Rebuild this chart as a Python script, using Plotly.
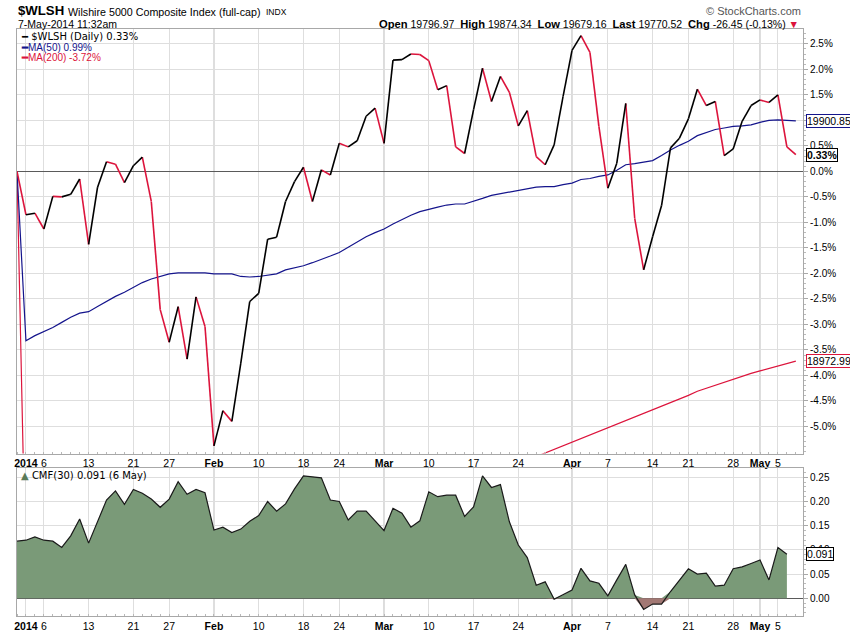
import pandas as pd
import plotly.graph_objects as go

# trading days shown on the chart (31 Dec 2013 is the 0% base)
holidays = ["2014-01-01", "2014-01-20", "2014-02-17", "2014-04-18"]
dates = [d.strftime("%Y-%m-%d") for d in pd.bdate_range("2013-12-31", "2014-05-07")
         if d.strftime("%Y-%m-%d") not in holidays]

# $WLSH % change vs 31 Dec 2013
wlsh_pct = [0.00,
            -0.85, -0.82, -1.13, -0.49, -0.50, -0.45, -0.15, -1.43, -0.31, 0.19, 0.14,
            -0.22, 0.11, 0.28, -0.59, -2.71, -3.35, -2.65, -3.68, -2.46, -3.04,
            -5.38, -4.69, -4.90, -3.76, -2.55, -2.39, -1.33, -1.29, -0.59, -0.20,
            0.08, -0.59, 0.03, -0.07, 0.55, 0.48, 0.60, 1.08, 1.24,
            0.55, 2.18, 2.19, 2.30, 2.29, 2.17, 1.60, 1.68, 0.48, 0.35, 1.21,
            2.02, 1.37, 1.86, 1.55, 0.89, 1.19, 0.29, 0.13, 0.52, 1.47,
            2.37, 2.66, 2.33, 0.88, -0.33, 0.16, 1.33, -0.92, -1.93, -1.28, -0.67,
            0.46, 0.65, 1.03, 1.61, 1.29, 1.37, 0.31, 0.44, 0.98, 1.29,
            1.40, 1.35, 1.50, 0.48, 0.33]

ma50_pct = [0.00,
            -3.32, -3.22, -3.14, -3.06, -2.96, -2.86, -2.78, -2.75, -2.65, -2.55, -2.45,
            -2.37, -2.27, -2.18, -2.11, -2.06, -2.01, -1.99, -1.99, -1.99, -1.99,
            -2.01, -2.01, -2.01, -2.06, -2.07, -2.06, -2.03, -2.01, -1.93, -1.89,
            -1.85, -1.79, -1.73, -1.66, -1.59, -1.49, -1.38, -1.28, -1.20,
            -1.13, -1.03, -0.94, -0.86, -0.79, -0.74, -0.70, -0.66, -0.64, -0.64, -0.59,
            -0.53, -0.47, -0.44, -0.41, -0.38, -0.34, -0.31, -0.30, -0.30, -0.26,
            -0.23, -0.16, -0.14, -0.10, -0.07, 0.02, 0.13, 0.15, 0.18, 0.21, 0.31,
            0.42, 0.51, 0.59, 0.70, 0.76, 0.82, 0.85, 0.88, 0.89, 0.91,
            0.96, 1.00, 1.01, 1.00, 0.99]

ma200_pct = [0.00,
             -8.10, -8.05, -8.00, -7.96, -7.91, -7.87, -7.82, -7.78, -7.74, -7.69, -7.65,
             -7.61, -7.56, -7.52, -7.48, -7.44, -7.40, -7.36, -7.32, -7.28, -7.24,
             -7.21, -7.18, -7.15, -7.11, -7.08, -7.04, -7.00, -6.96, -6.92, -6.88,
             -6.84, -6.80, -6.76, -6.72, -6.68, -6.63, -6.59, -6.54, -6.50,
             -6.45, -6.40, -6.35, -6.30, -6.25, -6.20, -6.15, -6.10, -6.06, -6.02, -5.98,
             -5.94, -5.89, -5.84, -5.79, -5.73, -5.66, -5.59, -5.52, -5.45, -5.38,
             -5.31, -5.24, -5.17, -5.09, -5.02, -4.95, -4.88, -4.81, -4.74, -4.67, -4.60,
             -4.53, -4.46, -4.39, -4.31, -4.25, -4.19, -4.13, -4.07, -4.02, -3.96,
             -3.91, -3.86, -3.81, -3.76, -3.72]

# Chaikin Money Flow (30), ends 6 May
cmf30 = [0.118,
         0.120, 0.127, 0.120, 0.118, 0.105, 0.129, 0.164, 0.114, 0.158, 0.203, 0.222,
         0.194, 0.225, 0.217, 0.205, 0.188, 0.205, 0.241, 0.215, 0.225, 0.218,
         0.141, 0.147, 0.136, 0.143, 0.159, 0.171, 0.200, 0.180, 0.195, 0.226,
         0.253, 0.251, 0.249, 0.203, 0.200, 0.162, 0.180, 0.180, 0.159,
         0.140, 0.186, 0.176, 0.147, 0.160, 0.220, 0.210, 0.213, 0.213, 0.169, 0.189,
         0.253, 0.229, 0.235, 0.158, 0.110, 0.084, 0.027, 0.034, -0.002, 0.007,
         0.017, 0.062, 0.036, 0.031, 0.005, 0.038, 0.070, 0.007, -0.023, -0.012, -0.012,
         0.014, 0.038, 0.061, 0.050, 0.052, 0.025, 0.027, 0.061, 0.065, 0.072,
         0.079, 0.038, 0.105, 0.091]

tick_dates = ["2014-01-02", "2014-01-06", "2014-01-13", "2014-01-21", "2014-01-27",
              "2014-02-03", "2014-02-10", "2014-02-18", "2014-02-24",
              "2014-03-03", "2014-03-10", "2014-03-17", "2014-03-24",
              "2014-04-01", "2014-04-07", "2014-04-14", "2014-04-21", "2014-04-28",
              "2014-05-01", "2014-05-05"]
tick_labels = ["<b>2014</b>", "6", "13", "21", "27", "<b>Feb</b>", "10", "18", "24",
               "<b>Mar</b>", "10", "17", "24", "<b>Apr</b>", "7", "14", "21", "28",
               "<b>May</b>", "5"]
month_starts = ["2014-02-03", "2014-03-03", "2014-04-01", "2014-05-01"]

pct_ticks = [-5.0, -4.5, -4.0, -3.5, -3.0, -2.5, -2.0, -1.5, -1.0, -0.5,
             0.0, 0.5, 1.0, 1.5, 2.0, 2.5]
cmf_ticks = [0.00, 0.05, 0.10, 0.15, 0.20, 0.25]

BLACK = "#000000"
RED = "#dc143c"
NAVY = "#14148c"
GRID = "#dedede"
FRAME = "#a8a8a8"

pos = {d: i - 1 for i, d in enumerate(dates)}
xs = [pos[d] for d in dates]
tickvals = [pos[d] for d in tick_dates]

# split the price line into rising (black) and falling (red) segments
up_x, up_y, dn_x, dn_y = [], [], [], []
for i in range(1, len(wlsh_pct)):
    seg_x = [xs[i - 1], xs[i], None]
    seg_y = [wlsh_pct[i - 1], wlsh_pct[i], None]
    if wlsh_pct[i] >= wlsh_pct[i - 1]:
        up_x += seg_x
        up_y += seg_y
    else:
        dn_x += seg_x
        dn_y += seg_y

cmf_x = xs[:len(cmf30)]
cmf_pos = [max(v, 0) for v in cmf30]
cmf_neg = [min(v, 0) for v in cmf30]

fig = go.Figure()
fig.add_trace(go.Scatter(x=xs, y=ma200_pct, mode="lines", line=dict(color=RED, width=1.2),
                         xaxis="x", yaxis="y"))
fig.add_trace(go.Scatter(x=xs, y=ma50_pct, mode="lines", line=dict(color=NAVY, width=1.2),
                         xaxis="x", yaxis="y"))
fig.add_trace(go.Scatter(x=dn_x, y=dn_y, mode="lines", line=dict(color=RED, width=1.6),
                         xaxis="x", yaxis="y", connectgaps=False))
fig.add_trace(go.Scatter(x=up_x, y=up_y, mode="lines", line=dict(color=BLACK, width=1.6),
                         xaxis="x", yaxis="y", connectgaps=False))

fig.add_trace(go.Scatter(x=cmf_x, y=cmf_pos, mode="lines", line=dict(width=0),
                         fill="tozeroy", fillcolor="#7a9a78", xaxis="x2", yaxis="y2"))
fig.add_trace(go.Scatter(x=cmf_x, y=cmf_neg, mode="lines", line=dict(width=0),
                         fill="tozeroy", fillcolor="#a27874", xaxis="x2", yaxis="y2"))
fig.add_trace(go.Scatter(x=cmf_x, y=cmf30, mode="lines", line=dict(color="#1a1a1a", width=1.2),
                         xaxis="x2", yaxis="y2"))

xaxis_common = dict(
    range=[-1, 86.8], tickvals=tickvals, ticktext=tick_labels, ticks="",
    showgrid=True, gridcolor=GRID, gridwidth=1, zeroline=False, automargin=False,
    showline=True, linecolor=FRAME, mirror=True,
    tickfont=dict(family="Liberation Sans", size=10.5, color="#000"),
    minor=dict(dtick=1, ticks="inside", ticklen=2, tickcolor="#b8b8b8", showgrid=False),
)

fig.update_layout(
    width=850, height=633, autosize=False,
    margin=dict(l=17, r=47, t=29, b=17),
    paper_bgcolor="white", plot_bgcolor="white",
    showlegend=False,
    xaxis=dict(anchor="y", **xaxis_common),
    xaxis2=dict(anchor="y2", matches="x", **xaxis_common),
    yaxis=dict(domain=[0.2768, 1], range=[-5.53, 2.79], side="right", automargin=False,
               tickvals=pct_ticks, ticktext=[f"{v:.1f}%" for v in pct_ticks],
               ticks="outside", ticklen=4, tickcolor=FRAME,
               minor=dict(dtick=0.1, ticks="outside", ticklen=2, tickcolor="#bbbbbb", showgrid=False),
               showgrid=True, gridcolor=GRID, zeroline=True, zerolinecolor="#5a5a5a",
               zerolinewidth=1, showline=True, linecolor=FRAME, mirror=True,
               tickfont=dict(family="Liberation Sans", size=10, color="#000")),
    yaxis2=dict(domain=[0, 0.2516], range=[-0.0366, 0.2686], side="right", automargin=False,
                tickvals=cmf_ticks, ticktext=[f"{v:.2f}" for v in cmf_ticks],
                ticks="outside", ticklen=4, tickcolor=FRAME,
                minor=dict(dtick=0.01, ticks="outside", ticklen=2, tickcolor="#bbbbbb", showgrid=False),
                showgrid=True, gridcolor=GRID, zeroline=True, zerolinecolor="#5a5a5a",
                zerolinewidth=1, showline=True, linecolor=FRAME, mirror=True,
                tickfont=dict(family="Liberation Sans", size=10, color="#000")),
)

# darker gridlines at the start of each month
for d in month_starts:
    for xr, yr in (("x", "y domain"), ("x2", "y2 domain")):
        fig.add_shape(type="line", xref=xr, yref=yr, x0=pos[d], x1=pos[d], y0=0, y1=1,
                      line=dict(color="#b4b4b4", width=1), layer="below")

ann = []
# header
ann.append(dict(text="<b>$WLSH</b>", x=-0.0013, y=1.0307, xanchor="left", yanchor="middle",
                font=dict(family="Liberation Sans", size=13.2, color="#000")))
ann.append(dict(text="Wilshire 5000 Composite Index (full-cap)", x=0.0623, y=1.0295,
                xanchor="left", yanchor="middle",
                font=dict(family="Liberation Sans", size=10.7, color="#000")))
ann.append(dict(text="INDX", x=0.3143, y=1.0295, xanchor="left", yanchor="middle",
                font=dict(family="Liberation Sans", size=8.5, color="#000")))
ann.append(dict(text="7-May-2014 11:32am", x=-0.0013, y=1.0085, xanchor="left", yanchor="middle",
                font=dict(family="Liberation Sans", size=10.5, color="#000")))
ann.append(dict(text="<b style='font-size:11.2px'>Open</b> 19796.97  "
                     "<b style='font-size:11.2px'>High</b> 19874.34  "
                     "<b style='font-size:11.2px'>Low</b> 19679.16  "
                     "<b style='font-size:11.2px'>Last</b> 19770.52  "
                     "<b style='font-size:11.2px'>Chg</b> -26.45 (-0.13%) "
                     "<span style='color:#dc143c'>▼</span>",
                x=0.9975, y=1.0085, xanchor="right", yanchor="middle",
                font=dict(family="Liberation Sans", size=10.5, color="#000")))
ann.append(dict(text="© StockCharts.com", x=1.0, y=1.0312, xanchor="right", yanchor="middle",
                font=dict(family="Liberation Sans", size=11, color="#555")))

# legend inside the price panel
ann.append(dict(text="<b>━</b> $WLSH (Daily) 0.33%", x=0.0025, y=0.988, xanchor="left",
                yanchor="middle", font=dict(family="DejaVu Sans", size=10, color=BLACK)))
ann.append(dict(text="<b>━</b>MA(50) 0.99%", x=0.0025, y=0.9693, xanchor="left",
                yanchor="middle", font=dict(family="Liberation Sans", size=10, color=NAVY)))
ann.append(dict(text="<b>━</b>MA(200) -3.72%", x=0.0025, y=0.9506, xanchor="left",
                yanchor="middle", font=dict(family="Liberation Sans", size=10, color=RED)))
ann.append(dict(text="<span style='color:#5a7a58'>▲</span> CMF(30) 0.091 (6 May)", x=0.0025,
                y=0.239, xanchor="left", yanchor="middle",
                font=dict(family="DejaVu Sans", size=10, color="#000")))

for a in ann:
    a.update(xref="paper", yref="paper", showarrow=False)

# last-value boxes on the right axis
boxes = [
    ("19900.85", ma50_pct[-1], "y", NAVY, False),
    ("0.33%", wlsh_pct[-1], "y", BLACK, True),
    ("18972.99", ma200_pct[-1], "y", RED, False),
    ("0.091", cmf30[-1], "y2", BLACK, False),
]
for txt, yv, yr, col, bold in boxes:
    ann.append(dict(text=f"<b>{txt}</b>" if bold else txt, xref="paper", yref=yr,
                    x=1.004, y=yv, xanchor="left", yanchor="middle", showarrow=False,
                    bgcolor="white", bordercolor=col, borderwidth=1, borderpad=0,
                    font=dict(family="Liberation Sans", size=10.5, color="#000")))

fig.update_layout(annotations=ann)
# page margin off so the 850x633 figure sits at the window's top-left corner
fig.write_html("out.html", config={"displayModeBar": False},
               post_script="document.body.style.margin = '0';")
